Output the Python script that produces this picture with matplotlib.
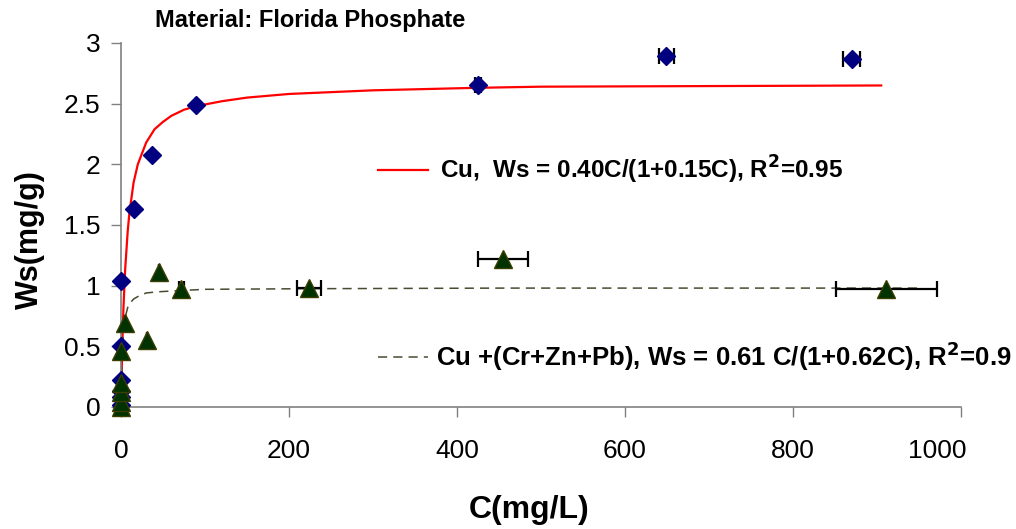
import matplotlib
matplotlib.use("Agg")
import matplotlib.pyplot as plt
from matplotlib.transforms import ScaledTranslation

plt.rcParams['font.family'] = ['Liberation Sans', 'DejaVu Sans']

# Cu data (diamonds)
cu_C = [0, 0, 0, 0, 0, 0, 16, 37, 89, 425, 649, 870]
cu_W = [0.02, 0.08, 0.13, 0.22, 0.50, 1.04, 1.63, 2.08, 2.49, 2.65, 2.89, 2.87]
cu_Cerr = [0, 0, 0, 0, 0, 0, 0, 0, 0, 3, 9, 10]

# Cu + (Cr+Zn+Pb) data (triangles)
mix_C = [0, 0, 0, 0, 0, 5, 31, 45, 72, 224, 455, 911]
mix_W = [0.0, 0.04, 0.12, 0.20, 0.46, 0.69, 0.55, 1.11, 0.97, 0.98, 1.22, 0.97]
mix_Cerr = [0, 0, 0, 0, 0, 0, 0, 0, 3, 14, 30, 60]

# Fitted curves
fit_cu_C = [0, 0.5, 1, 2, 3, 5, 8, 10, 15, 20, 30, 40, 50, 60, 75, 90, 120, 150, 200, 300, 420, 500, 700, 905]
fit_cu_W = [0, 0.19, 0.35, 0.62, 0.83, 1.14, 1.45, 1.60, 1.85, 2.00, 2.18, 2.29, 2.35, 2.40, 2.45, 2.48, 2.52,
            2.55, 2.58, 2.61, 2.63, 2.64, 2.645, 2.65]
fit_mix_C = [0, 1, 2, 3, 5, 8, 10, 15, 20, 30, 45, 72, 100, 225, 455, 700, 950]
fit_mix_W = [0, 0.38, 0.54, 0.64, 0.74, 0.82, 0.85, 0.89, 0.91, 0.94, 0.95, 0.96, 0.97, 0.975, 0.98, 0.98, 0.98]

x_ticks = [0, 200, 400, 600, 800, 1000]
y_ticks = [0, 0.5, 1, 1.5, 2, 2.5, 3]
y_tick_labels = ['0', '0.5', '1', '1.5', '2', '2.5', '3']

label_cu = r'Cu,  Ws = 0.40C/(1+0.15C), R$^\mathbf{2}$=0.95'
label_mix = r'Cu +(Cr+Zn+Pb), Ws = 0.61 C/(1+0.62C), R$^\mathbf{2}$=0.9'

W, H = 1016, 529
fig = plt.figure(figsize=(W / 100, H / 100), dpi=100)
ax = fig.add_axes([121 / W, 1 - 407 / H, (961 - 121) / W, (407 - 43) / H])
ax.set_xlim(0, 1000)
ax.set_ylim(0, 3)

red_line, = ax.plot(fit_cu_C, fit_cu_W, color='#ff0000', lw=1.6, zorder=2)
dash_line, = ax.plot(fit_mix_C, fit_mix_W, color='#4a4a30', lw=1.1, ls=(0, (6, 4)), zorder=2)

ax.errorbar(cu_C, cu_W, xerr=cu_Cerr, fmt='none', ecolor='black', elinewidth=1.6,
            capsize=5.5, capthick=1.6, zorder=3)
ax.errorbar(mix_C, mix_W, xerr=mix_Cerr, fmt='none', ecolor='black', elinewidth=1.6,
            capsize=5.5, capthick=1.6, zorder=3)
ax.plot(cu_C, cu_W, ls='none', marker='D', ms=9.5, mfc='#000080', mec='#000080', zorder=4, clip_on=False)
ax.plot(mix_C, mix_W, ls='none', marker='^', ms=13, mfc='#003300', mec='#3d3d00', mew=1.0, zorder=5,
        clip_on=False)

for side in ['top', 'right']:
    ax.spines[side].set_visible(False)
for side in ['left', 'bottom']:
    ax.spines[side].set_color('#808080')
    ax.spines[side].set_linewidth(1.2)

ax.set_xticks(x_ticks)
ax.set_yticks(y_ticks)
ax.set_yticklabels(y_tick_labels)
ax.tick_params(axis='both', direction='out', length=7, width=1, color='#808080', labelsize=19)
ax.tick_params(axis='x', pad=16)
ax.tick_params(axis='y', pad=8)

# last x tick label is pulled inside the chart area, as in the reference
last_lbl = ax.get_xticklabels()[-1]
last_lbl.set_transform(last_lbl.get_transform() + ScaledTranslation(-24 / 100, 0, fig.dpi_scale_trans))

ax.set_xlabel('C(mg/L)', fontsize=23, fontweight='bold', va='center', ha='center')
ax.xaxis.set_label_coords((529 - 121) / 840, (407 - 510) / 364)
ax.set_ylabel('Ws(mg/g)', fontsize=22, fontweight='bold', va='center', ha='center')
ax.yaxis.set_label_coords((30 - 121) / 840, (407 - 240) / 364)

fig.text(155 / W, 1 - 20 / H, 'Material: Florida Phosphate', fontsize=17, fontweight='bold',
         ha='left', va='center')

leg1 = fig.legend([red_line], [label_cu], loc='center left', bbox_to_anchor=(378 / W, 1 - 170 / H),
                  frameon=False, borderpad=0, borderaxespad=0, handlelength=2.06, handletextpad=0.49,
                  prop={'weight': 'bold', 'size': 17.5})
leg2 = fig.legend([dash_line], [label_mix], loc='center left', bbox_to_anchor=(378 / W, 1 - 356 / H),
                  frameon=False, borderpad=0, borderaxespad=0, handlelength=1.95, handletextpad=0.31,
                  prop={'weight': 'bold', 'size': 18.5})

fig.savefig('out.png', dpi=100)
